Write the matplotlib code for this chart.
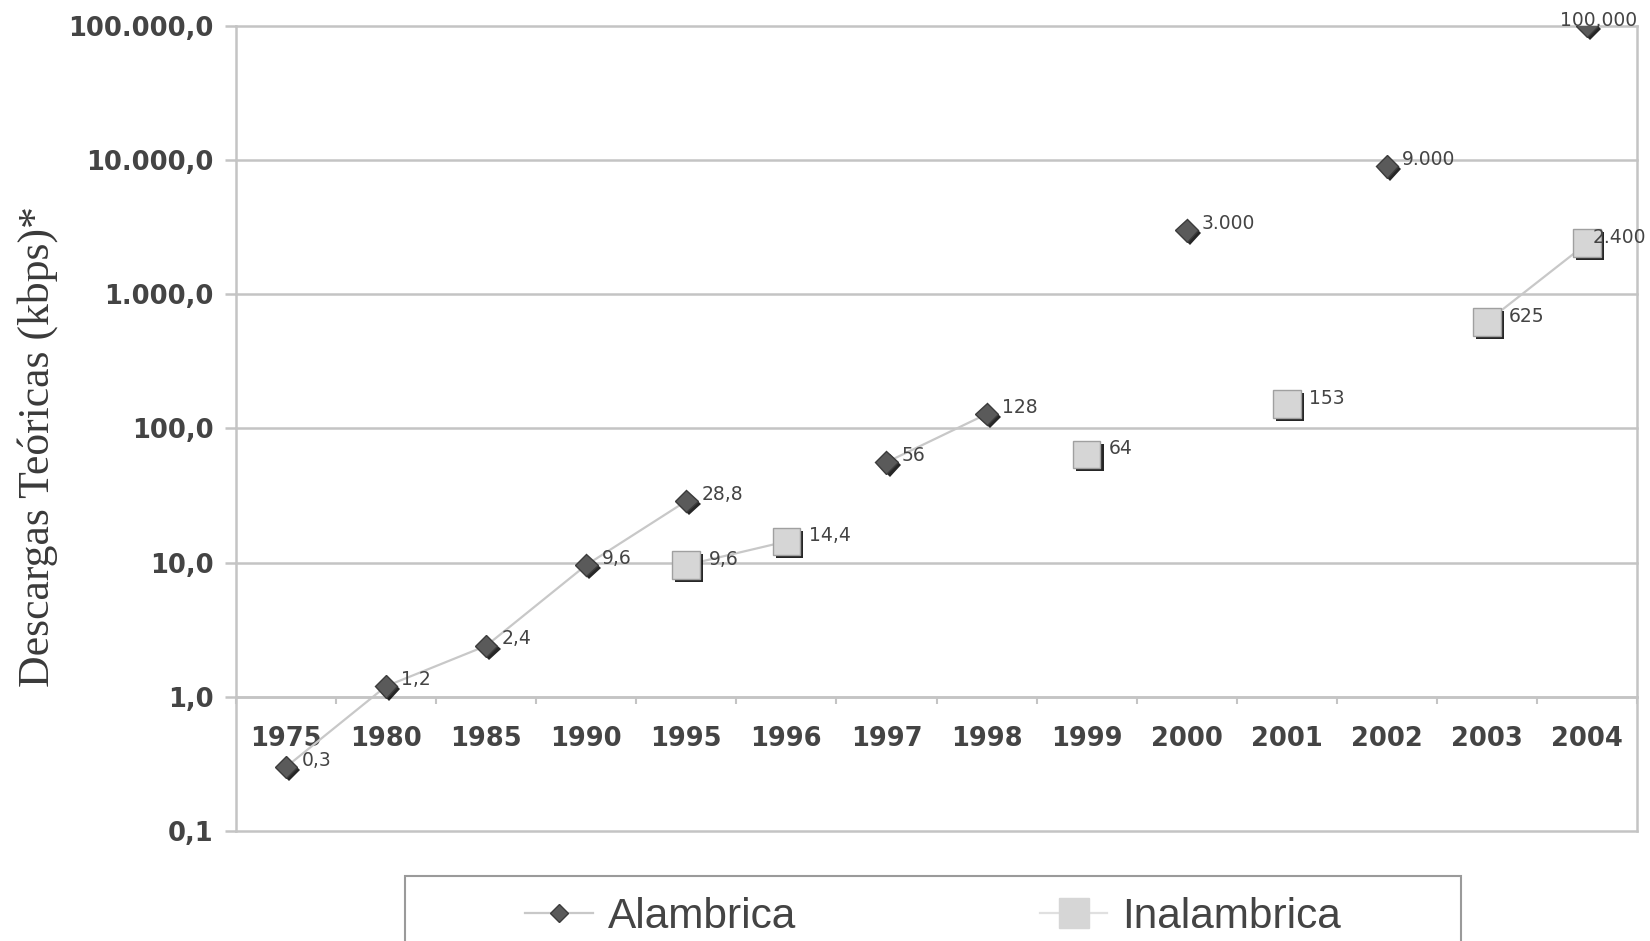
import numpy as np
import matplotlib.pyplot as plt
import matplotlib.patheffects as pe
from matplotlib.lines import Line2D
from matplotlib.patches import Rectangle

nan = np.nan

# data
years = ['1975', '1980', '1985', '1990', '1995', '1996', '1997',
         '1998', '1999', '2000', '2001', '2002', '2003', '2004']
alambrica = [0.3, 1.2, 2.4, 9.6, 28.8, nan, 56, 128, nan, 3000, nan, 9000, nan, 100000]
inalambrica = [nan, nan, nan, nan, 9.6, 14.4, nan, nan, 64, nan, 153, nan, 625, 2400]
y_ticks = [0.1, 1, 10, 100, 1000, 10000, 100000]

GRID = '#c4c4c4'
TXT = '#444444'
SANS = 'DejaVu Sans'


def es_num(v, dec):
    s = f"{v:,.{dec}f}"
    return s.replace(',', '#').replace('.', ',').replace('#', '.')


def point_label(v):
    if v < 100 and v != int(v):
        return es_num(v, 1)
    return es_num(v, 0)


fig = plt.figure(figsize=(16.5, 9.41), dpi=100)
ax = fig.add_axes([236 / 1650, 1 - 831 / 941, 1401 / 1650, 805 / 941])

x = np.arange(len(years))

ax.set_yscale('log')
ax.set_ylim(0.1, 100000)
ax.set_xlim(-0.5, len(years) - 0.5)

# horizontal gridlines incl. frame top/bottom
for yv in y_ticks:
    ax.axhline(yv, color=GRID, lw=1.8, zorder=1, clip_on=False)

# lines
ax.plot(x, alambrica, color='#c8c8c8', lw=1.6, zorder=2)
ax.plot(x, inalambrica, color='#c8c8c8', lw=1.6, zorder=2)

shadow = [pe.SimplePatchShadow(offset=(2.2, -2.2), shadow_rgbFace='black', alpha=0.85), pe.Normal()]
ax.plot(x, alambrica, ls='none', marker='D', ms=11.5, mfc='#5a5a5a', mec='#3c3c3c',
        mew=1, zorder=3, path_effects=shadow)
ax.plot(x, inalambrica, ls='none', marker='s', ms=20, mfc='#d6d6d6', mec='#a0a0a0',
        mew=1, zorder=3, path_effects=shadow)

# data labels
last = len(years) - 1
lab_kw = dict(textcoords='offset points', va='center', fontsize=13.5, color=TXT,
              family=SANS, zorder=5, annotation_clip=False)
for i, v in enumerate(alambrica):
    if np.isnan(v):
        continue
    if i == last:
        ax.annotate(point_label(v), (i, v), xytext=(8, 4), ha='center', **lab_kw)
    else:
        ax.annotate(point_label(v), (i, v), xytext=(11, 5), ha='left', **lab_kw)
for i, v in enumerate(inalambrica):
    if np.isnan(v):
        continue
    dx = 4 if i == last else 16
    ax.annotate(point_label(v), (i, v), xytext=(dx, 4), ha='left', **lab_kw)

# axes styling
ax.spines['top'].set_visible(False)
for s in ['left', 'right', 'bottom']:
    ax.spines[s].set_color(GRID)
    ax.spines[s].set_linewidth(1.8)
ax.spines['bottom'].set_position(('data', 1.0))

ax.set_yticks(y_ticks)
ax.set_yticklabels([es_num(v, 1) for v in y_ticks])
ax.yaxis.set_minor_locator(plt.NullLocator())
ax.tick_params(axis='y', which='major', length=8, width=1.8, color=GRID, pad=8,
               labelsize=18.5, labelcolor=TXT)

ax.set_xticks(np.arange(-0.5, len(years), 1))
ax.set_xticklabels([])
ax.set_xticks(x, minor=True)
ax.set_xticklabels(years, minor=True)
ax.tick_params(axis='x', which='major', length=5, width=1.5, color=GRID)
ax.tick_params(axis='x', which='minor', length=0, pad=21, labelsize=18.5, labelcolor=TXT)

for lab in ax.get_xticklabels(minor=True) + ax.get_yticklabels():
    lab.set_family(SANS)
    lab.set_fontweight('bold')

fig.text(0.023, 0.525, 'Descargas Teóricas (kbps)*', rotation=90, ha='center', va='center',
         fontsize=31.5, color='#3a3a3a', family='Liberation Serif')

# legend box and entries
fig.patches.append(Rectangle((405 / 1650, -0.05), 1056 / 1650, 0.119, transform=fig.transFigure,
                             fill=False, edgecolor='#9a9a9a', lw=1.5))
handles = [
    Line2D([], [], color='#c8c8c8', lw=1.6, marker='D', ms=9, mfc='#5a5a5a', mec='#3c3c3c'),
    Line2D([], [], color='#e0e0e0', lw=1.6, marker='s', ms=21, mfc='#d6d6d6', mec='#d6d6d6'),
]
leg = fig.legend(handles, ['Alambrica', 'Inalambrica'], ncol=2, loc='center',
                 bbox_to_anchor=(0.5655, 0.0260), frameon=False, handlelength=1.6,
                 handletextpad=0.35, columnspacing=5.75,
                 prop={'family': 'Liberation Sans', 'size': 30.5})
for t in leg.get_texts():
    t.set_color(TXT)

fig.savefig('out.png', dpi=100)
